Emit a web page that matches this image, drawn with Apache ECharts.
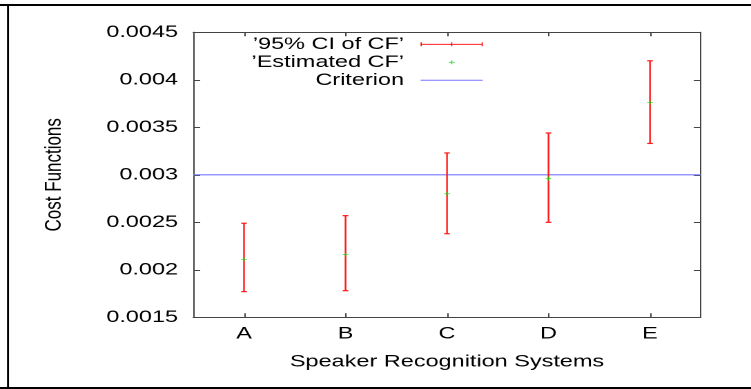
<!DOCTYPE html>
<html>
<head>
<meta charset="utf-8">
<script src="https://cdn.jsdelivr.net/npm/echarts@6/dist/echarts.min.js"></script>
<style>
html,body{margin:0;padding:0;background:#fff;overflow:hidden;width:751px;height:389px;}
#chart{position:absolute;left:0;top:0;width:544px;height:389px;transform:scaleX(1.3805);transform-origin:0 0;}
</style>
</head>
<body>
<div id="chart"></div>
<script>
// ---- data ----
const categories = ['A', 'B', 'C', 'D', 'E'];
const ciLow = [0.00177, 0.00178, 0.00238, 0.00250, 0.00333];
const ciHigh = [0.00249, 0.00257, 0.00323, 0.00344, 0.00420];
const estimated = [0.00211, 0.00216, 0.00280, 0.00296, 0.00376];
const criterion = [0.003];
const seriesNames = ['\u201995% CI of CF\u2019', '\u2019Estimated CF\u2019', 'Criterion'];
const xTitle = 'Speaker Recognition Systems';
const yTitle = 'Cost Functions';
const yMin = 0.0015, yMax = 0.0045, yStep = 0.0005;

const FONT = "'Liberation Sans', Arial, Helvetica, sans-serif";
const chart = echarts.init(document.getElementById('chart'), null, {renderer: 'canvas', devicePixelRatio: 2});

const axisColor = '#444';
const ciData = categories.map((c, i) => [i, ciLow[i], ciHigh[i]]);
const estData = categories.map((c, i) => [i, estimated[i]]);
const critData = criterion.map(v => [0, v]);

const option = {
  backgroundColor: '#fff',
  animation: false,
  textStyle: {fontFamily: FONT},
  grid: {left: 140, right: 36.4, top: 32.3, bottom: 71.7, containLabel: false},
  graphic: [
    {type: 'line', shape: {x1: 0, y1: 5, x2: 560, y2: 5}, style: {stroke: '#000', lineWidth: 2}, silent: true},
    {type: 'line', shape: {x1: 0, y1: 388, x2: 560, y2: 388}, style: {stroke: '#000', lineWidth: 2}, silent: true},
    {type: 'line', shape: {x1: 5.8, y1: 4, x2: 5.8, y2: 389}, style: {stroke: '#000', lineWidth: 1.45}, silent: true}
  ],
  legend: {
    orient: 'vertical',
    right: 194.3,
    top: 35.8,
    align: 'right',
    itemWidth: 45,
    itemHeight: 4,
    itemGap: 1,
    padding: 0,
    selectedMode: false,
    textStyle: {fontFamily: FONT, fontSize: 17, color: '#000', padding: [0, 7, 0, 0]},
    data: [
      {name: seriesNames[0], icon: 'path://M0,1.6H45V2.4H0Z M0,0H0.8V4H0Z M22.1,0H22.9V4H22.1Z M44.2,0H45V4H44.2Z', itemStyle: {color: '#ff0000'}},
      {name: seriesNames[1], icon: 'path://M0,1.6H4V2.4H0Z M1.6,0H2.4V4H1.6Z', itemStyle: {color: '#00dd00'}},
      {name: seriesNames[2], icon: 'path://M0,0H45V1H0Z', itemStyle: {color: '#7777ff'}}
    ]
  },
  xAxis: [
    {
      type: 'category', data: categories, position: 'bottom', boundaryGap: true,
      axisLine: {show: true, lineStyle: {color: axisColor, width: 1}},
      axisTick: {show: true, inside: true, alignWithLabel: true, length: 4, lineStyle: {color: axisColor}},
      axisLabel: {fontFamily: FONT, fontSize: 17, color: '#000', margin: 8},
      splitLine: {show: false},
      name: xTitle, nameLocation: 'middle', nameGap: 36,
      nameTextStyle: {fontFamily: FONT, fontSize: 17, color: '#000'}
    },
    {
      type: 'category', data: categories, position: 'top', boundaryGap: true,
      axisLine: {show: true, lineStyle: {color: axisColor, width: 1}},
      axisTick: {show: true, inside: true, alignWithLabel: true, length: 4, lineStyle: {color: axisColor}},
      axisLabel: {show: false}, splitLine: {show: false}
    }
  ],
  yAxis: [
    {
      type: 'value', min: yMin, max: yMax, interval: yStep, position: 'left',
      axisLine: {show: true, lineStyle: {color: axisColor, width: 1}},
      axisTick: {show: true, inside: true, length: 5, lineStyle: {color: axisColor}},
      axisLabel: {fontFamily: FONT, fontSize: 17, color: '#000', margin: 11,
        formatter: v => String(parseFloat(Number(v).toPrecision(6)))},
      splitLine: {show: false},
      name: yTitle, nameLocation: 'middle', nameGap: 92, nameRotate: 90,
      nameTextStyle: {fontFamily: FONT, fontSize: 17, color: '#000'}
    },
    {
      type: 'value', min: yMin, max: yMax, interval: yStep, position: 'right',
      axisLine: {show: true, lineStyle: {color: axisColor, width: 1}},
      axisTick: {show: true, inside: true, length: 5, lineStyle: {color: axisColor}},
      axisLabel: {show: false}, splitLine: {show: false}
    }
  ],
  series: [
    {
      name: seriesNames[2],
      type: 'custom',
      xAxisIndex: 0, yAxisIndex: 0,
      itemStyle: {color: '#7777ff'},
      encode: {x: 0, y: 1},
      data: critData,
      renderItem: function (params, api) {
        const cs = params.coordSys;
        const p = api.coord([0, api.value(1)]);
        return {
          type: 'line',
          shape: {x1: cs.x, y1: p[1], x2: cs.x + cs.width, y2: p[1]},
          style: {stroke: '#7777ff', lineWidth: 1.2}
        };
      },
      z: 1
    },
    {
      name: seriesNames[0],
      type: 'custom',
      xAxisIndex: 0, yAxisIndex: 0,
      itemStyle: {color: '#ff0000'},
      encode: {x: 0, y: [1, 2]},
      data: ciData,
      renderItem: function (params, api) {
        const xi = api.value(0);
        const lo = api.coord([xi, api.value(1)]);
        const hi = api.coord([xi, api.value(2)]);
        const hw = 2.05;
        const st = {stroke: '#ff1a1a', lineWidth: 1.2};
        return {
          type: 'group',
          children: [
            {type: 'line', shape: {x1: lo[0], y1: lo[1], x2: hi[0], y2: hi[1]}, style: st},
            {type: 'line', shape: {x1: lo[0] - hw, y1: lo[1], x2: lo[0] + hw, y2: lo[1]}, style: st},
            {type: 'line', shape: {x1: hi[0] - hw, y1: hi[1], x2: hi[0] + hw, y2: hi[1]}, style: st}
          ]
        };
      },
      z: 2
    },
    {
      name: seriesNames[1],
      type: 'scatter',
      xAxisIndex: 0, yAxisIndex: 0,
      symbol: 'path://M0,1.6H4V2.4H0Z M1.6,0H2.4V4H1.6Z',
      symbolSize: [4, 4],
      itemStyle: {color: '#00dd00'},
      data: estData,
      z: 3
    }
  ]
};
chart.setOption(option);
</script>
</body>
</html>
